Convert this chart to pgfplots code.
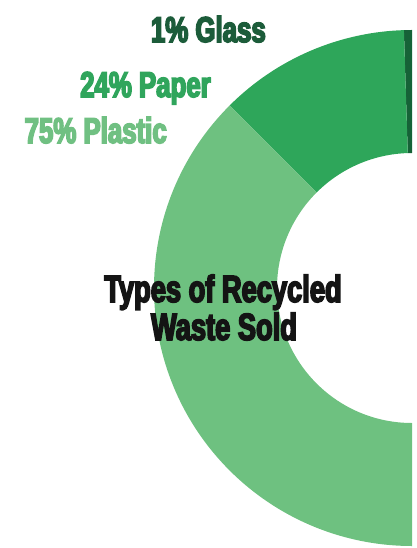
\documentclass[border=0pt]{standalone}
\usepackage{pgfplots}
\pgfplotsset{compat=1.18}
\usepackage{pgfplotstable}
\usepackage{fontspec}
\setmainfont{Liberation Sans}
\newfontfamily\impact[FakeStretch=0.72]{Liberation Sans Bold}
\newcommand\heavy[1]{\special{pdf:literal direct 2 Tr 1.6 w}#1\special{pdf:literal direct 0 Tr 0.4 w}}
\definecolor{cGlass}{RGB}{22,98,55}
\definecolor{cPaper}{RGB}{46,166,90}
\definecolor{cPlastic}{RGB}{110,193,128}
\definecolor{tGlass}{RGB}{28,92,58}
\definecolor{tPaper}{RGB}{48,165,92}
\definecolor{tPlastic}{RGB}{112,192,130}
\pgfplotstableread{
label value
Glass 1
Paper 24
Plastic 75
}\wastedata
\begin{document}
\begin{tikzpicture}
\pgfplotstablegetelem{0}{value}\of\wastedata \edef\vGlass{\pgfplotsretval}
\pgfplotstablegetelem{1}{value}\of\wastedata \edef\vPaper{\pgfplotsretval}
\pgfplotstablegetelem{2}{value}\of\wastedata \edef\vPlastic{\pgfplotsretval}
\pgfmathsetmacro\aA{90}
\pgfmathsetmacro\aB{\aA+1.8*\vGlass}
\pgfmathsetmacro\aC{\aB+1.8*\vPaper}
\pgfmathsetmacro\aD{\aC+1.8*\vPlastic}
\begin{axis}[x=1bp,y=1bp,scale only axis,hide axis,
  xmin=0,xmax=416,ymin=0,ymax=548,y dir=reverse,clip=false]
\def\cx{412}\def\cy{288}
\fill[cGlass] ([shift={(\aA:258bp)}]axis cs:\cx,\cy) arc[start angle=\aA,end angle=\aB,radius=258bp]
  -- ([shift={(\aB:135bp)}]axis cs:\cx,\cy) arc[start angle=\aB,end angle=\aA,radius=135bp] -- cycle;
\fill[cPaper] ([shift={(\aB:258bp)}]axis cs:\cx,\cy) arc[start angle=\aB,end angle=\aC,radius=258bp]
  -- ([shift={(\aC:135bp)}]axis cs:\cx,\cy) arc[start angle=\aC,end angle=\aB,radius=135bp] -- cycle;
\fill[cPlastic] ([shift={(\aC:258bp)}]axis cs:\cx,\cy) arc[start angle=\aC,end angle=\aD,radius=258bp]
  -- ([shift={(\aD:135bp)}]axis cs:\cx,\cy) arc[start angle=\aD,end angle=\aC,radius=135bp] -- cycle;
\node[anchor=base east,inner sep=0,text=tGlass,font=\impact\fontsize{36}{36}\selectfont] at (axis cs:266,42) {\heavy{1\% Glass}};
\node[anchor=base east,inner sep=0,text=tPaper,font=\impact\fontsize{36}{36}\selectfont] at (axis cs:211,97) {\heavy{24\% Paper}};
\node[anchor=base east,inner sep=0,text=tPlastic,font=\impact\fontsize{36}{36}\selectfont] at (axis cs:167,143) {\heavy{75\% Plastic}};
\node[anchor=base,inner sep=0,text=black!92,font=\impact\fontsize{38}{38}\selectfont] at (axis cs:223,302) {\heavy{Types of Recycled}};
\node[anchor=base,inner sep=0,text=black!92,font=\impact\fontsize{38}{38}\selectfont] at (axis cs:224,340) {\heavy{Waste Sold}};
\end{axis}
\pgfresetboundingbox
\path[use as bounding box] (current axis.south west) rectangle (current axis.north east);
\end{tikzpicture}
\end{document}
